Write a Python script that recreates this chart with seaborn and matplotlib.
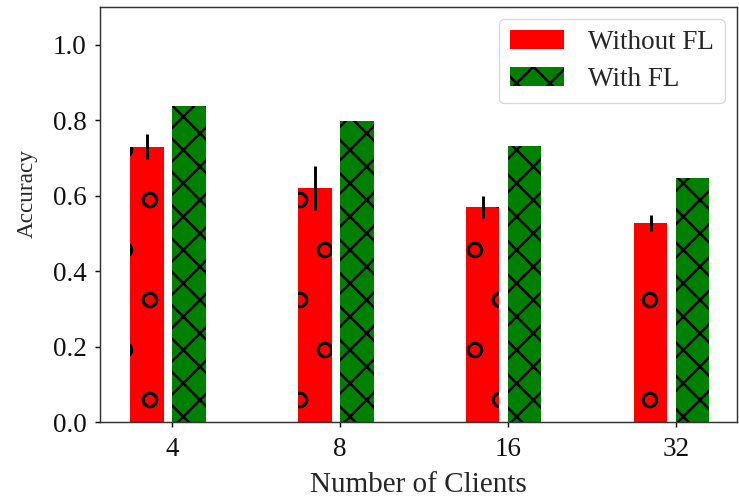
import numpy as np
import pandas as pd
import matplotlib
matplotlib.use("Agg")
import matplotlib.pyplot as plt
import matplotlib.patches as mpatches
import matplotlib.hatch as mhatch
import seaborn as sns

# ---- data ----
clients = ["4", "8", "16", "32"]
series = ["Without FL", "With FL"]
without_fl = [0.730, 0.621, 0.570, 0.528]
without_fl_err = [0.033, 0.058, 0.030, 0.021]
with_fl = [0.838, 0.798, 0.732, 0.647]
yticks = [0.0, 0.2, 0.4, 0.6, 0.8, 1.0]
colors = ["#ff0000", "#008000"]
hatches = ["o", "xxx"]

sns.set_style("ticks")
plt.rcParams["font.family"] = ["Liberation Serif", "DejaVu Serif"]
plt.rcParams["hatch.linewidth"] = 0.6
plt.rcParams["hatch.color"] = "black"
mhatch.SmallCircles.size = 0.14  # slightly smaller circle hatch marks

df = pd.DataFrame({
    "clients": clients * 2,
    "acc": without_fl + with_fl,
    "series": [series[0]] * len(clients) + [series[1]] * len(clients),
})

DPI = 300
fig, ax = plt.subplots(figsize=(739 / DPI, 500 / DPI), dpi=DPI)
fig.subplots_adjust(left=100 / 739, right=737 / 739, top=1 - 7 / 500, bottom=1 - 422 / 500)

sns.barplot(data=df, x="clients", y="acc", hue="series", order=clients,
            hue_order=series, palette=colors, saturation=1, width=0.5, gap=0.2,
            errorbar=None, legend=False, ax=ax)

red_centers = []
for p in ax.patches:
    p.set_x(p.get_x() - 0.025)
    fc = matplotlib.colors.to_hex(p.get_facecolor())
    idx = 0 if fc == colors[0] else 1
    p.set_hatch(hatches[idx])
    p.set_edgecolor("black")
    p.set_linewidth(0)
    if idx == 0:
        red_centers.append(p.get_x() + p.get_width() / 2)
red_centers = sorted(red_centers)

ax.errorbar(red_centers, without_fl, yerr=without_fl_err, fmt="none",
            ecolor="black", elinewidth=0.7, capsize=0, zorder=5)

ax.set_xlim(-0.43, 3.365)
ax.set_ylim(0, 1.1)
ax.set_yticks(yticks)
ax.set_yticklabels([f"{v:.1f}" for v in yticks])

for s in ax.spines.values():
    s.set_visible(True)
    s.set_linewidth(0.35)
    s.set_color("#333333")
ax.tick_params(axis="both", which="both", width=0.35, length=1.3,
               labelsize=6.5, colors="#111111")
ax.tick_params(axis="y", pad=1.9)
ax.tick_params(axis="x", pad=2.2)

ax.set_xlabel("Number of Clients", fontsize=7, labelpad=2.6)
ax.set_ylabel("Accuracy", fontsize=5.6)
ax.yaxis.set_label_coords(-0.098, 0.55)

handles = [mpatches.Patch(facecolor=colors[0], edgecolor="none", linewidth=0,
                          label=series[0]),
           mpatches.Patch(facecolor=colors[1], edgecolor="black", linewidth=0,
                          hatch=hatches[1], label=series[1])]
leg = ax.legend(handles=handles, loc="upper right", fontsize=6.5, frameon=True,
                fancybox=True, borderaxespad=0.45, handletextpad=0.9,
                labelspacing=0.45)
leg.get_frame().set_linewidth(0.3)
leg.get_frame().set_edgecolor("#cccccc")

fig.savefig("out.png", dpi=DPI)
